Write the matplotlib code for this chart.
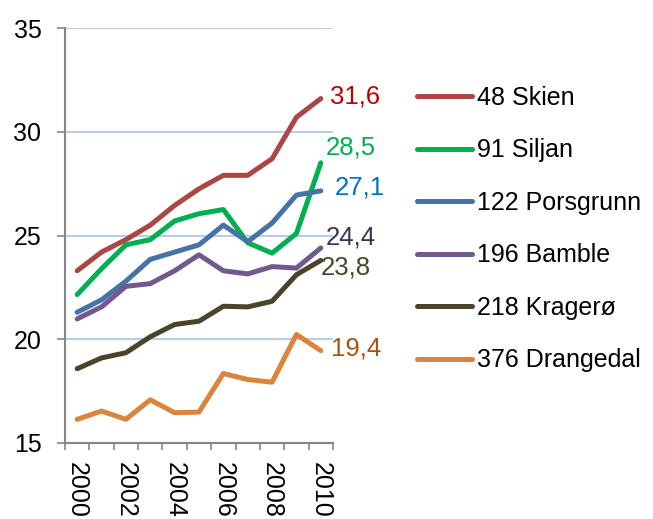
import matplotlib
matplotlib.use("Agg")
import matplotlib.pyplot as plt

plt.rcParams['font.family'] = ['Liberation Sans', 'DejaVu Sans']

years = [2000, 2001, 2002, 2003, 2004, 2005, 2006, 2007, 2008, 2009, 2010]
series_names = ["48 Skien", "91 Siljan", "122 Porsgrunn", "196 Bamble", "218 Kragerø", "376 Drangedal"]
skien = [23.3, 24.2, 24.8, 25.5, 26.45, 27.25, 27.9, 27.9, 28.7, 30.7, 31.6]
siljan = [22.15, 23.4, 24.55, 24.8, 25.7, 26.05, 26.25, 24.65, 24.15, 25.1, 28.5]
porsgrunn = [21.3, 21.9, 22.8, 23.85, 24.2, 24.55, 25.5, 24.7, 25.6, 26.95, 27.15]
bamble = [20.98, 21.56, 22.55, 22.68, 23.3, 24.07, 23.3, 23.15, 23.5, 23.43, 24.4]
kragero = [18.58, 19.1, 19.35, 20.12, 20.71, 20.87, 21.59, 21.56, 21.83, 23.11, 23.8]
drangedal = [16.14, 16.54, 16.14, 17.08, 16.46, 16.49, 18.35, 18.06, 17.93, 20.23, 19.45]
end_labels = ["31,6", "28,5", "27,1", "24,4", "23,8", "19,4"]

all_series = [skien, siljan, porsgrunn, bamble, kragero, drangedal]
line_colors = ["#AA4643", "#00B050", "#4572A7", "#71588F", "#4A452A", "#DB843D"]
label_colors = ["#C00000", "#00B050", "#0070C0", "#403152", "#4A452A", "#A8530F"]
# label offsets in pixels (dx, dy) relative to the last point
label_offsets = [(9, 2), (5, 15), (14, 3), (5, 10), (0, -7), (10, 2)]

fig = plt.figure(figsize=(6.53, 5.19), dpi=100)
ax = fig.add_axes([65/653, 1-443/519, 268/653, 415/519])

x = list(range(len(years)))
for vals, name, col in zip(all_series, series_names, line_colors):
    ax.plot(x, vals, color=col, lw=3.6, solid_capstyle='round', solid_joinstyle='round',
            label=name, zorder=3)

for vals, lab, col, (dx, dy) in zip(all_series, end_labels, label_colors, label_offsets):
    ax.annotate(lab, xy=(x[-1], vals[-1]), xytext=(dx*0.72, dy*0.72),
                textcoords='offset points', ha='left', va='center',
                color=col, fontsize=18.5, annotation_clip=False)

ax.set_xlim(-0.5, len(years)-0.5)
ax.set_ylim(15, 35)
ax.set_yticks([15, 20, 25, 30, 35])
ax.yaxis.grid(True, color='#B9CDE5', lw=1.5, zorder=0)
ax.set_axisbelow(True)

ax.set_xticks(x[::2])
ax.set_xticklabels([str(y) for y in years[::2]], rotation=-90, fontsize=18)
ax.set_xticks([i - 0.5 for i in range(len(years)+1)], minor=True)
ax.tick_params(axis='x', which='major', length=0, pad=14)
ax.tick_params(axis='x', which='minor', length=5, width=1.2, color='#868686', direction='out')
ax.tick_params(axis='y', length=6, width=1.2, color='#868686', direction='out', labelsize=18, pad=11)

for s in ['top', 'right']:
    ax.spines[s].set_visible(False)
for s in ['left', 'bottom']:
    ax.spines[s].set_color('#868686')
    ax.spines[s].set_linewidth(1.5)

leg = fig.legend(loc='center left', bbox_to_anchor=(417/653, 1-229/519), frameon=False,
                 fontsize=18, borderpad=0, borderaxespad=0, handlelength=2.2,
                 handletextpad=0.2, labelspacing=1.14)
for h in leg.get_lines():
    h.set_linewidth(3.6)
    h.set_solid_capstyle('round')

fig.savefig("out.png", dpi=100)
